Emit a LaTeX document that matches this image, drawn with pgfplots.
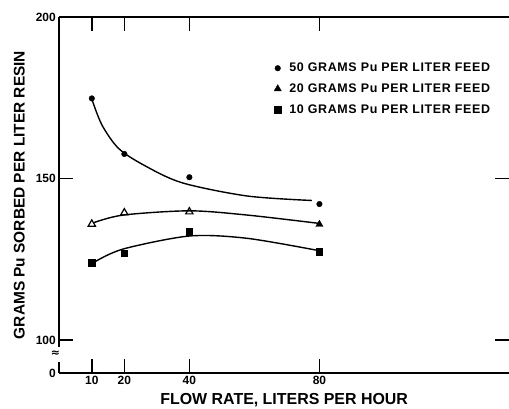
\documentclass[border=0pt]{standalone}
\usepackage{fontspec}
\setmainfont{Liberation Sans}
\newfontfamily\dv{DejaVu Sans}
\usepackage{pgfplots}
\pgfplotsset{compat=1.18}
\begin{document}
\begin{tikzpicture}
\begin{axis}[
  scale only axis, width=449.7bp, height=356bp,
  xmin=0, xmax=138.3, ymin=89.8, ymax=200,
  clip=false,
  axis line style={draw=none},
  xtick={10,20,40,80}, ytick={100,150,200},
  tick pos=both, xticklabel pos=lower, yticklabel pos=left,
  tick align=inside,
  major tick length=14bp,
  every tick/.style={black, line width=1.4bp},
  tick label style={font=\fontsize{12}{13}\selectfont\bfseries},
  /pgf/number format/assume math mode=true,
  extra y ticks={89.8}, extra y tick labels={0},
  extra y tick style={major tick length=0pt},
  xlabel={FLOW RATE, LITERS PER HOUR},
  ylabel={GRAMS Pu SORBED PER LITER RESIN},
  xlabel style={at={(axis description cs:0.5,-0.0758)}, anchor=center, font=\fontsize{16}{17}\selectfont\bfseries},
  ylabel style={at={(axis description cs:-0.089,0.5)}, anchor=center, font=\fontsize{15.5}{16}\selectfont\bfseries},
  legend style={at={(axis cs:66,186.4)}, anchor=north west, draw=none, fill=none,
    font=\fontsize{12.5}{13}\selectfont\bfseries\addfontfeatures{LetterSpace=5},
    row sep=6.5bp, inner sep=0pt,
    /tikz/every odd column/.append style={column sep=6bp}},
  legend cell align=left,
]
% fitted curves
\addplot[black, line width=1.4bp, smooth, forget plot] coordinates {
 (10,174.6) (13.1,166.6) (18.2,159.35) (25.9,154.2) (37.7,148.7) (57.7,144.6) (77.7,143.2)};
\addplot[black, line width=1.4bp, smooth, forget plot] coordinates {
 (10.5,136.3) (19.7,138.7) (40,140.0) (57.7,138.7) (80,136.1)};
\addplot[black, line width=1.4bp, smooth, forget plot] coordinates {
 (11,124.25) (19.7,128.2) (40,132.2) (57.7,131.5) (80,127.65)};
% data points
\addplot[only marks, mark=*, mark size=2.8bp, black] coordinates {
 (10,174.8) (20,157.6) (40,150.4) (80,142.1)};
\addlegendentry{50 GRAMS Pu PER LITER FEED}
\addplot[only marks, mark=triangle*, mark size=4.2bp, black] coordinates {
 (80,135.8)};
\addlegendentry{20 GRAMS Pu PER LITER FEED}
\addplot[only marks, mark=square*, mark size=3.2bp, black] coordinates {
 (10,123.9) (20,126.9) (40,133.5) (80,127.3)};
\addlegendentry{10 GRAMS Pu PER LITER FEED}
\addplot[only marks, mark=triangle, mark size=4.2bp, black, line width=1.2bp, forget plot] coordinates {
 (10,135.9) (20,139.4) (40,139.7)};
% frame with axis break
\draw[line width=1.8bp] (axis cs:0,200) -- (axis cs:138.3,200);
\draw[line width=1.8bp] (axis cs:0,89.8) -- (axis cs:138.3,89.8);
\draw[line width=1.8bp] (axis cs:0,200) -- (axis cs:0,97.9);
\draw[line width=1.8bp] (axis cs:0,93.3) -- (axis cs:0,89.8);
\node[font=\dv\bfseries\fontsize{11}{12}\selectfont, inner sep=0pt] at (axis cs:-1.2,95.9) {≈};
\coordinate (SW) at (rel axis cs:0,0);
\coordinate (NE) at (rel axis cs:1,1);
\end{axis}
\pgfresetboundingbox
\path[use as bounding box] ([xshift=-59.3bp,yshift=-36bp]SW) rectangle ([yshift=17bp]NE);
\end{tikzpicture}
\end{document}
